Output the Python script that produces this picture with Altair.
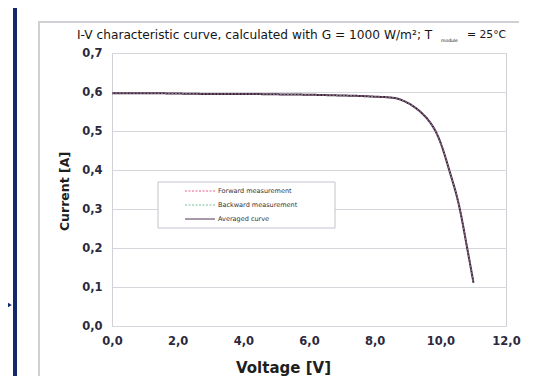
import altair as alt
import pandas as pd

# ---- data ----
voltage = [0.0, 1.0, 2.0, 3.0, 4.0, 5.0, 6.0, 7.0, 7.5, 8.0, 8.45, 8.7, 8.96,
           9.2, 9.47, 9.67, 9.87, 9.97, 10.27, 10.58, 10.83, 11.01]
current_avg = [0.597, 0.597, 0.596, 0.595, 0.595, 0.594, 0.593, 0.591, 0.590,
               0.588, 0.586, 0.583, 0.574, 0.562, 0.543, 0.524, 0.497, 0.478,
               0.400, 0.305, 0.194, 0.111]
current_fwd = current_avg
current_bwd = current_avg
series_names = ["Forward measurement", "Backward measurement", "Averaged curve"]
series_colors = ["#e8507f", "#6bb58f", "#3e2142"]
series_dash = [[2, 1.5], [2, 1.5], [1, 0]]
x_ticks = [0, 2, 4, 6, 8, 10, 12]
y_ticks = [0.0, 0.1, 0.2, 0.3, 0.4, 0.5, 0.6, 0.7]

rows = []
for name, vals in zip(series_names, [current_fwd, current_bwd, current_avg]):
    for v, i in zip(voltage, vals):
        rows.append({"V": v, "I": i, "series": name})
df = pd.DataFrame(rows)

W, H = 394, 273
FONT = "DejaVu Sans"
LABEL_COLOR = "#2c2a3c"
LBL = "replace(format(datum.value, '.1f'), '.', ',')"

x_enc = alt.X("V:Q", scale=alt.Scale(domain=[0, 12], nice=False),
              axis=alt.Axis(values=x_ticks, title="Voltage [V]", labelExpr=LBL,
                            grid=False, ticks=False, domain=False, labelPadding=9,
                            labelOverlap=False, labelFlush=False,
                            labelFont=FONT, labelFontSize=11.5, labelFontWeight="bold",
                            labelColor=LABEL_COLOR,
                            titleFont=FONT, titleFontSize=15, titleFontWeight="bold",
                            titleColor="#1e1e1e",
                            titleX=171, titleY=34, titleAnchor="middle",
                            titleAlign="center", titleBaseline="top"))
y_enc = alt.Y("I:Q", scale=alt.Scale(domain=[0, 0.7], nice=False),
              axis=alt.Axis(values=y_ticks, title="Current [A]", labelExpr=LBL,
                            grid=True, gridColor="#d6d6dd", gridWidth=1,
                            ticks=False, domain=False, labelPadding=10,
                            labelOverlap=False, labelFlush=False,
                            labelFont=FONT, labelFontSize=11.5, labelFontWeight="bold",
                            labelColor=LABEL_COLOR,
                            titleFont=FONT, titleFontSize=12.5, titleFontWeight="bold",
                            titleColor="#1e1e1e",
                            titleX=-48, titleY=138, titleAlign="center",
                            titleBaseline="middle"))

color_enc = alt.Color("series:N", scale=alt.Scale(domain=series_names, range=series_colors),
                      legend=alt.Legend(title=None, orient="none", legendX=82, legendY=132,
                                        symbolType="M-3,0H3", symbolSize=100,
                                        symbolStrokeWidth=1.3, labelOffset=12,
                                        labelFontSize=6.5, labelColor="#333",
                                        labelFont=FONT, rowPadding=4, padding=0))
dash_enc = alt.StrokeDash("series:N", scale=alt.Scale(domain=series_names, range=series_dash),
                          legend=None)

avg = (alt.Chart(df).transform_filter(alt.datum.series == "Averaged curve")
       .mark_line(strokeWidth=2, interpolate="monotone")
       .encode(x=x_enc, y=y_enc, color=color_enc, strokeDash=dash_enc))
meas = (alt.Chart(df).transform_filter(alt.datum.series != "Averaged curve")
        .mark_line(strokeWidth=1.0, interpolate="monotone", opacity=0.6)
        .encode(x=x_enc, y=y_enc, color=color_enc, strokeDash=dash_enc))

# legend box
legend_box = alt.Chart().mark_rect(fill="white", stroke="#c4c4cc", strokeWidth=1).encode(
    x=alt.value(46), x2=alt.value(223), y=alt.value(129), y2=alt.value(175))

# decorative frame parts
blue_bar = alt.Chart().mark_rect(color="#12296b").encode(
    x=alt.value(-99), x2=alt.value(-95), y=alt.value(-50), y2=alt.value(340))
gray_left = alt.Chart().mark_rect(color="#cfcfd4").encode(
    x=alt.value(-74), x2=alt.value(-72), y=alt.value(-31), y2=alt.value(330))
gray_top = alt.Chart().mark_rect(color="#cfcfd4").encode(
    x=alt.value(-74), x2=alt.value(407), y=alt.value(-32), y2=alt.value(-30))
arrow = alt.Chart().mark_point(shape="triangle-right", filled=True, color="#12296b",
                               size=320, opacity=1).encode(
    x=alt.value(-108), y=alt.value(252))

# title with subscript
TS = 12.2
t_main = alt.Chart().mark_text(align="left", baseline="middle", font=FONT, fontSize=TS,
                               color="#151515").encode(
    x=alt.value(-35), y=alt.value(-18),
    text=alt.value("I-V characteristic curve, calculated with G = 1000 W/m²; T"))
t_sub = alt.Chart().mark_text(align="left", baseline="middle", font=FONT, fontSize=4.5,
                              color="#151515").encode(
    x=alt.value(329), y=alt.value(-12), text=alt.value("module"))
t_end = alt.Chart().mark_text(align="left", baseline="middle", font=FONT, fontSize=10.8,
                              color="#151515").encode(
    x=alt.value(355), y=alt.value(-18), text=alt.value("= 25°C"))

chart = alt.layer(blue_bar, gray_left, gray_top, arrow, avg, legend_box, meas,
                  t_main, t_sub, t_end).properties(
    width=W, height=H,
    background="white",
    autosize=alt.AutoSizeParams(type="none"),
    padding={"left": 104, "top": 45, "right": 15, "bottom": 50},
).configure_view(stroke="#cfd0d6", strokeWidth=1)

chart.save("out.html", embed_options={"renderer": "svg", "actions": False})
